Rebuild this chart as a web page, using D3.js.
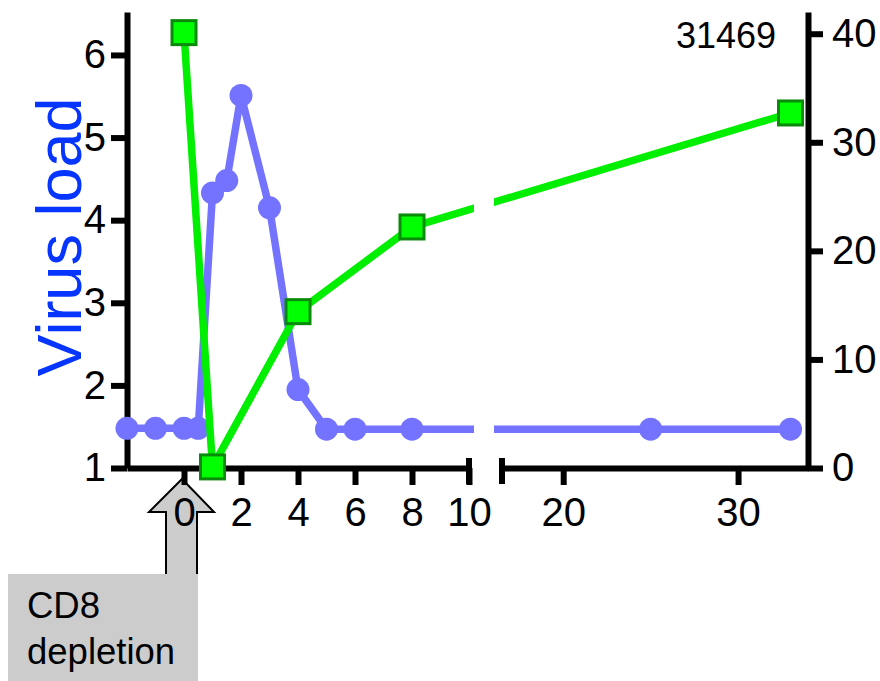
<!DOCTYPE html>
<html>
<head>
    <meta charset="utf-8">
    <script src="https://cdn.jsdelivr.net/npm/d3@7"></script>
    <style>
        body { margin: 0; background: #fff; }
        text { font-family: "Liberation Sans", Arial, sans-serif; }
    </style>
</head>
<body>
<svg width="880" height="681"></svg>
<script>
    // virus load (left axis)
    let blueX = [-2, -1, 0, 0.5, 1, 1.5, 2, 3, 4, 5, 6, 8, 25, 33];
    let blueY = [1.48, 1.48, 1.48, 1.48, 4.33, 4.48, 5.51, 4.15, 1.95, 1.47, 1.47, 1.47, 1.47, 1.47];
    // second series (right axis)
    let greenX = [0, 1, 4, 8, 33];
    let greenY = [40.1, 0.1, 14.4, 22.2, 32.7];

    let xTicks1 = [0, 2, 4, 6, 8, 10];
    let xTicks2 = [20, 30];
    let yTicksL = [1, 2, 3, 4, 5, 6];
    let yTicksR = [0, 10, 20, 30, 40];

    let svg = d3.select("svg");

    let x1 = d3.scaleLinear().domain([-2, 10]).range([127, 469]);
    let x2 = d3.scaleLinear().domain([16.5, 34]).range([502, 808]);
    let yL = d3.scaleLinear().domain([1, 6.52]).range([468, 12]);
    let yR = d3.scaleLinear().domain([0, 42]).range([468, 12]);

    function xPos(v) {
        return v <= 10 ? x1(v) : x2(v);
    }

    function styleAxis(g) {
        g.select(".domain").attr("stroke-width", 6);
        g.selectAll(".tick line").attr("stroke-width", 6);
        g.selectAll(".tick text").attr("font-size", 40).attr("fill", "#000")
            .attr("font-family", "Liberation Sans, Arial, sans-serif");
    }

    // CD8 depletion arrow (behind the tick labels)
    let ax = x1(0) - 2;
    svg.append("polygon")
        .attr("points", [[ax, 479], [ax + 32, 512], [ax + 15, 512], [ax + 15, 575],
            [ax - 16, 575], [ax - 16, 512], [ax - 33, 512]].map(p => p.join(",")).join(" "))
        .attr("fill", "#cccccc").attr("stroke", "#000").attr("stroke-width", 2);
    svg.append("rect").attr("x", 8).attr("y", 574).attr("width", 190).attr("height", 110)
        .attr("fill", "#cccccc");
    svg.append("text").attr("x", 27).attr("y", 618).attr("font-size", 36.5).text("CD8");
    svg.append("text").attr("x", 27).attr("y", 664).attr("font-size", 36.5).text("depletion");

    // axes
    svg.append("g").attr("transform", "translate(0,468)")
        .call(d3.axisBottom(x1).tickValues(xTicks1).tickSize(17).tickSizeOuter(0).tickPadding(13))
        .call(styleAxis);
    svg.append("g").attr("transform", "translate(0,468)")
        .call(d3.axisBottom(x2).tickValues(xTicks2).tickSize(17).tickSizeOuter(0).tickPadding(13))
        .call(styleAxis);
    svg.append("g").attr("transform", "translate(127,0)")
        .call(d3.axisLeft(yL).tickValues(yTicksL).tickFormat(d3.format("d"))
            .tickSize(16).tickSizeOuter(0).tickPadding(5))
        .call(styleAxis);
    svg.append("g").attr("transform", "translate(808,0)")
        .call(d3.axisRight(yR).tickValues(yTicksR).tickSize(15).tickSizeOuter(0).tickPadding(9))
        .call(styleAxis);

    // break caps
    svg.selectAll("line.cap").data([x1(10), x2(16.5)]).enter().append("line")
        .attr("x1", d => d).attr("x2", d => d)
        .attr("y1", 458).attr("y2", 484)
        .attr("stroke", "#000").attr("stroke-width", 6);

    // gap in lines across the axis break
    let clip = svg.append("clipPath").attr("id", "gap");
    clip.append("rect").attr("x", 0).attr("y", 0).attr("width", 474).attr("height", 681);
    clip.append("rect").attr("x", 494).attr("y", 0).attr("width", 386).attr("height", 681);

    let blue = blueX.map((d, i) => [d, blueY[i]]);
    let green = greenX.map((d, i) => [d, greenY[i]]);

    svg.append("path").datum(blue)
        .attr("clip-path", "url(#gap)")
        .attr("d", d3.line().x(d => xPos(d[0])).y(d => yL(d[1])))
        .attr("fill", "none").attr("stroke", "#7373ff").attr("stroke-width", 7.5);
    svg.selectAll("circle").data(blue).enter().append("circle")
        .attr("cx", d => xPos(d[0])).attr("cy", d => yL(d[1])).attr("r", 11.5)
        .attr("fill", "#7373ff");

    svg.append("path").datum(green)
        .attr("clip-path", "url(#gap)")
        .attr("d", d3.line().x(d => xPos(d[0])).y(d => yR(d[1])))
        .attr("fill", "none").attr("stroke", "#00ee00").attr("stroke-width", 7.5);
    svg.selectAll("rect.sq").data(green).enter().append("rect")
        .attr("class", "sq")
        .attr("x", d => xPos(d[0]) - 12).attr("y", d => yR(d[1]) - 12)
        .attr("width", 24).attr("height", 24)
        .attr("fill", "#00ff00").attr("stroke", "#0a8a0a").attr("stroke-width", 3);

    // labels
    svg.append("text")
        .attr("transform", "translate(81,237) rotate(-90)")
        .attr("text-anchor", "middle")
        .attr("font-size", 63).attr("fill", "#0535ff")
        .text("Virus load");

    svg.append("text").attr("x", 676).attr("y", 48)
        .attr("font-size", 36).text("31469");
</script>
</body>
</html>
